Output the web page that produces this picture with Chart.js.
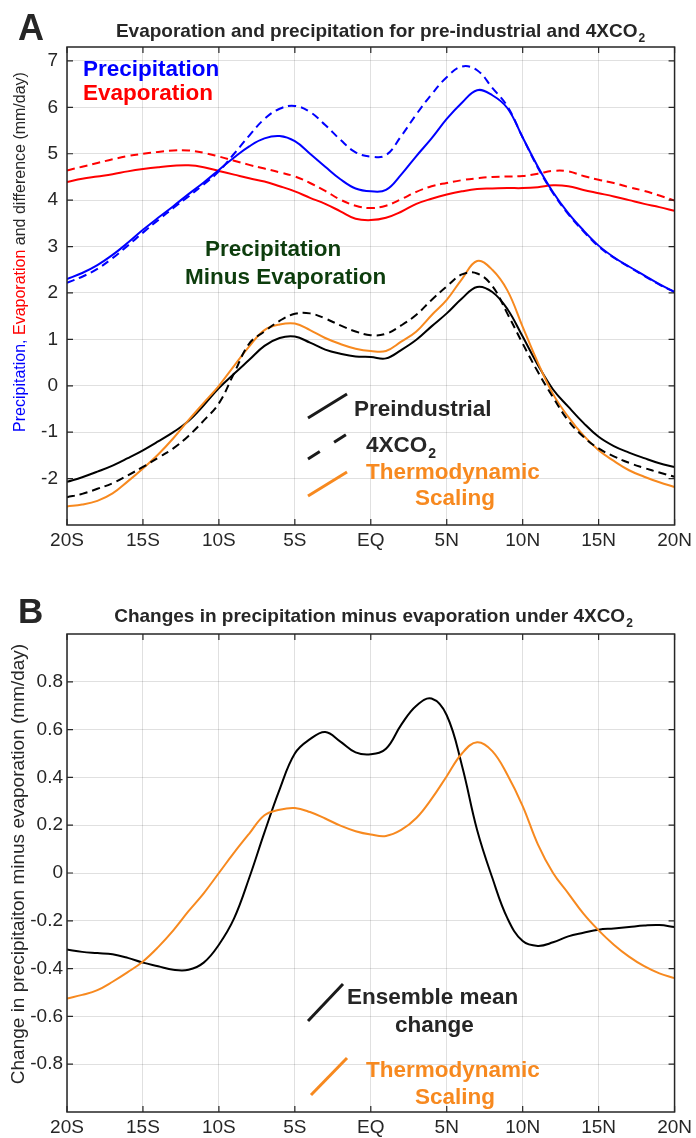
<!DOCTYPE html>
<html>
<head>
<meta charset="utf-8">
<script src="https://cdn.jsdelivr.net/npm/chart.js@4.4.1/dist/chart.umd.min.js"></script>
<style>
    body { margin: 0; background: #fff; }
    .panel { position: absolute; left: 0; width: 696px; }
    #panelA { top: 0; height: 570px; }
    #panelB { top: 570px; height: 568px; }
</style>
</head>
<body>
<div class="panel" id="panelA"><canvas id="chartA"></canvas></div>
<div class="panel" id="panelB"><canvas id="chartB"></canvas></div>
<script>
// latitude, 1 degree steps
const latitudes = [-20, -19, -18, -17, -16, -15, -14, -13, -12, -11, -10, -9, -8, -7, -6, -5, -4, -3, -2, -1,
    0, 1, 2, 3, 4, 5, 6, 7, 8, 9, 10, 11, 12, 13, 14, 15, 16, 17, 18, 19, 20];
const xTickValues = [-20, -15, -10, -5, 0, 5, 10, 15, 20];
const xTickLabels = ['20S', '15S', '10S', '5S', 'EQ', '5N', '10N', '15N', '20N'];
const yTicksA = [-2, -1, 0, 1, 2, 3, 4, 5, 6, 7];
const yTicksB = [-0.8, -0.6, -0.4, -0.2, 0, 0.2, 0.4, 0.6, 0.8];

// panel A (mm/day)
const precipPI = [2.30, 2.43, 2.60, 2.82, 3.08, 3.36, 3.62, 3.87, 4.13, 4.38, 4.65, 4.92, 5.16, 5.33, 5.38, 5.27, 5.00, 4.72, 4.45, 4.25,
    4.19, 4.22, 4.55, 4.95, 5.33, 5.75, 6.10, 6.37, 6.26, 5.98, 5.35, 4.72, 4.17, 3.72, 3.35, 3.02, 2.77, 2.57, 2.38, 2.19, 2.02];
const precip4x = [2.22, 2.35, 2.52, 2.75, 3.02, 3.30, 3.57, 3.83, 4.08, 4.34, 4.62, 5.00, 5.39, 5.75, 5.97, 6.03, 5.90, 5.62, 5.30, 5.03,
    4.94, 4.97, 5.38, 5.85, 6.28, 6.65, 6.88, 6.80, 6.42, 6.02, 5.35, 4.70, 4.15, 3.70, 3.33, 3.00, 2.76, 2.56, 2.37, 2.18, 2.02];
const evapPI = [4.39, 4.46, 4.51, 4.56, 4.62, 4.67, 4.71, 4.74, 4.75, 4.71, 4.63, 4.55, 4.47, 4.40, 4.30, 4.19, 4.05, 3.92, 3.76, 3.60,
    3.57, 3.62, 3.75, 3.92, 4.03, 4.12, 4.19, 4.24, 4.25, 4.26, 4.26, 4.28, 4.32, 4.30, 4.22, 4.15, 4.08, 4.00, 3.92, 3.85, 3.77];
const evap4x = [4.64, 4.72, 4.80, 4.88, 4.95, 5.00, 5.04, 5.07, 5.07, 5.02, 4.94, 4.85, 4.76, 4.68, 4.60, 4.51, 4.37, 4.20, 4.01, 3.88,
    3.83, 3.88, 4.02, 4.18, 4.30, 4.37, 4.43, 4.47, 4.50, 4.51, 4.52, 4.57, 4.63, 4.62, 4.52, 4.44, 4.37, 4.28, 4.20, 4.10, 3.99];
const pmePI = [-2.07, -1.97, -1.85, -1.72, -1.56, -1.39, -1.20, -1.00, -0.76, -0.42, -0.05, 0.26, 0.56, 0.86, 1.03, 1.06, 0.93, 0.78, 0.69, 0.63,
    0.62, 0.59, 0.77, 0.99, 1.28, 1.56, 1.88, 2.13, 2.02, 1.65, 1.06, 0.45, -0.08, -0.45, -0.80, -1.10, -1.30, -1.44, -1.56, -1.67, -1.75];
const pme4x = [-2.40, -2.33, -2.22, -2.10, -1.93, -1.75, -1.55, -1.35, -1.08, -0.75, -0.38, 0.27, 0.91, 1.17, 1.40, 1.55, 1.56, 1.45, 1.30, 1.17,
    1.09, 1.12, 1.30, 1.53, 1.85, 2.14, 2.40, 2.42, 2.15, 1.55, 0.91, 0.30, -0.25, -0.75, -1.10, -1.35, -1.52, -1.66, -1.77, -1.87, -1.96];
const pmeThermo = [-2.60, -2.56, -2.48, -2.32, -2.06, -1.78, -1.48, -1.13, -0.74, -0.37, 0.00, 0.43, 0.85, 1.20, 1.32, 1.34, 1.20, 1.03, 0.90, 0.80,
    0.75, 0.75, 0.95, 1.17, 1.52, 1.85, 2.30, 2.69, 2.50, 2.05, 1.27, 0.50, -0.18, -0.67, -1.07, -1.39, -1.62, -1.82, -1.96, -2.08, -2.18];

// panel B (mm/day)
const changeMean = [-0.32, -0.33, -0.335, -0.34, -0.355, -0.375, -0.39, -0.405, -0.405, -0.375, -0.30, -0.19, -0.02, 0.17, 0.35, 0.50, 0.56, 0.59, 0.55, 0.505,
    0.497, 0.52, 0.62, 0.70, 0.73, 0.66, 0.45, 0.18, -0.02, -0.19, -0.285, -0.305, -0.29, -0.265, -0.25, -0.237, -0.232, -0.226, -0.22, -0.218, -0.226];
const changeThermo = [-0.525, -0.51, -0.49, -0.455, -0.415, -0.37, -0.31, -0.24, -0.16, -0.085, 0.0, 0.085, 0.165, 0.242, 0.265, 0.272, 0.255, 0.228, 0.198, 0.175,
    0.161, 0.155, 0.18, 0.23, 0.31, 0.405, 0.50, 0.547, 0.51, 0.41, 0.28, 0.12, 0.0, -0.085, -0.17, -0.24, -0.30, -0.35, -0.39, -0.42, -0.44];

const FONT = '"Liberation Sans", Arial, Helvetica, sans-serif';
const DARK = '#262626';
const BLUE = '#0000ff';
const RED = '#ff0000';
const ORANGE = '#f7891f';
const GREEN = '#0d3d0d';

function pts(values) {
    return latitudes.map((lat, i) => ({ x: lat, y: values[i] }));
}

function line(values, color, dashed) {
    return {
        data: pts(values),
        borderColor: color,
        borderWidth: 2,
        borderDash: dashed ? [8, 5] : [],
        pointRadius: 0,
        fill: false,
        tension: 0.4
    };
}

function text(ctx, str, x, y, size, color, bold, align) {
    ctx.font = (bold ? 'bold ' : '') + size + 'px ' + FONT;
    ctx.fillStyle = color;
    ctx.textAlign = align || 'left';
    ctx.textBaseline = 'alphabetic';
    ctx.fillText(str, x, y);
}

// text with a subscript, e.g. 4XCO2
function subText(ctx, main, sub, x, y, size, color, align) {
    ctx.font = 'bold ' + size + 'px ' + FONT;
    const w1 = ctx.measureText(main).width;
    ctx.font = 'bold ' + Math.round(size * 0.62) + 'px ' + FONT;
    const w2 = ctx.measureText(sub).width;
    let left = x;
    if (align === 'center') left = x - (w1 + w2) / 2;
    text(ctx, main, left, y, size, color, true);
    text(ctx, sub, left + w1 + 1, y + size * 0.28, Math.round(size * 0.62), color, true);
}

function slash(ctx, x1, y1, x2, y2, color, dash) {
    ctx.save();
    ctx.strokeStyle = color;
    ctx.lineWidth = 3;
    ctx.setLineDash(dash || []);
    ctx.beginPath();
    ctx.moveTo(x1, y1);
    ctx.lineTo(x2, y2);
    ctx.stroke();
    ctx.restore();
}

// box round the axes with inward ticks on all sides (matlab style)
const framePlugin = {
    id: 'frame',
    afterDatasetsDraw(chart) {
        const { ctx, chartArea: a, scales } = chart;
        ctx.save();
        ctx.strokeStyle = DARK;
        ctx.lineWidth = 1.5;
        ctx.strokeRect(a.left, a.top, a.right - a.left, a.bottom - a.top);
        ctx.lineWidth = 1.2;
        ctx.beginPath();
        scales.x.ticks.forEach(t => {
            const px = scales.x.getPixelForValue(t.value);
            ctx.moveTo(px, a.bottom); ctx.lineTo(px, a.bottom - 6);
            ctx.moveTo(px, a.top); ctx.lineTo(px, a.top + 6);
        });
        scales.y.ticks.forEach(t => {
            const py = scales.y.getPixelForValue(t.value);
            ctx.moveTo(a.left, py); ctx.lineTo(a.left + 6, py);
            ctx.moveTo(a.right, py); ctx.lineTo(a.right - 6, py);
        });
        ctx.stroke();
        ctx.restore();
    }
};

function scalesFor(yMin, yMax, yTicks, yFormat, xHeight, yPad) {
    return {
        x: {
            type: 'linear', min: -20, max: 20,
            afterBuildTicks: s => { s.ticks = xTickValues.map(v => ({ value: v })); },
            afterFit: s => { s.height = xHeight; },
            ticks: {
                padding: 4, color: DARK, font: { family: FONT, size: 19 }, maxRotation: 0,
                callback: v => xTickLabels[xTickValues.indexOf(v)]
            },
            grid: { color: 'rgba(0,0,0,0.12)', drawTicks: false },
            border: { display: false }
        },
        y: {
            min: yMin, max: yMax,
            afterBuildTicks: s => { s.ticks = yTicks.map(v => ({ value: v })); },
            afterFit: s => { s.width = 67; },
            ticks: { padding: yPad, color: DARK, font: { family: FONT, size: 19 }, callback: yFormat },
            grid: { color: 'rgba(0,0,0,0.12)', drawTicks: false },
            border: { display: false }
        }
    };
}

const commonPlugins = { legend: { display: false }, tooltip: { enabled: false } };

// ---- panel A ----
const labelsA = {
    id: 'labelsA',
    afterDraw(chart) {
        const ctx = chart.ctx;
        text(ctx, 'A', 18, 40, 36, DARK, true);
        subText(ctx, 'Evaporation and precipitation for pre-industrial and 4XCO', '2', 380, 37, 19, DARK, 'center');

        // multicoloured y axis title
        ctx.save();
        ctx.translate(21, 252);
        ctx.rotate(-Math.PI / 2);
        ctx.font = '16px ' + FONT;
        ctx.textBaseline = 'middle';
        const parts = [['Precipitation, ', BLUE], ['Evaporation', RED], [' and difference (mm/day)', DARK]];
        const total = parts.reduce((s, p) => s + ctx.measureText(p[0]).width, 0);
        let xx = -total / 2;
        parts.forEach(p => {
            ctx.fillStyle = p[1];
            ctx.textAlign = 'left';
            ctx.fillText(p[0], xx, 0);
            xx += ctx.measureText(p[0]).width;
        });
        ctx.restore();

        text(ctx, 'Precipitation', 83, 76, 22.5, BLUE, true);
        text(ctx, 'Evaporation', 83, 100, 22.5, RED, true);
        text(ctx, 'Precipitation', 205, 256, 22.5, GREEN, true);
        text(ctx, 'Minus Evaporation', 185, 284, 22.5, GREEN, true);

        slash(ctx, 308, 418, 347, 394, '#1a1a1a');
        slash(ctx, 308, 459, 347, 434, '#1a1a1a', [14, 17]);
        slash(ctx, 308, 496, 347, 472, ORANGE);
        text(ctx, 'Preindustrial', 354, 416, 22.5, DARK, true);
        subText(ctx, '4XCO', '2', 366, 452, 22.5, DARK);
        text(ctx, 'Thermodynamic', 366, 479, 22.5, ORANGE, true);
        text(ctx, 'Scaling', 415, 505, 22.5, ORANGE, true);
    }
};

new Chart(document.getElementById('chartA'), {
    type: 'line',
    data: {
        datasets: [
            line(precip4x, BLUE, true),
            line(precipPI, BLUE, false),
            line(evap4x, RED, true),
            line(evapPI, RED, false),
            line(pme4x, '#000', true),
            line(pmeThermo, ORANGE, false),
            line(pmePI, '#000', false)
        ]
    },
    options: {
        responsive: true,
        maintainAspectRatio: false,
        animation: false,
        layout: { padding: { left: 0, right: 16, top: 47, bottom: 0 } },
        scales: scalesFor(-3, 7.3, yTicksA, v => String(v), 45, 9),
        plugins: commonPlugins
    },
    plugins: [framePlugin, labelsA]
});

// ---- panel B ----
const labelsB = {
    id: 'labelsB',
    afterDraw(chart) {
        const ctx = chart.ctx;
        text(ctx, 'B', 18, 53, 35, DARK, true);
        subText(ctx, 'Changes in precipitation minus evaporation under 4XCO', '2', 373, 52, 19, DARK, 'center');

        ctx.save();
        ctx.translate(19, 294);
        ctx.rotate(-Math.PI / 2);
        ctx.font = '19px ' + FONT;
        ctx.fillStyle = DARK;
        ctx.textAlign = 'center';
        ctx.textBaseline = 'middle';
        ctx.fillText('Change in precipitaiton minus evaporation (mm/day)', 0, 0);
        ctx.restore();

        slash(ctx, 308, 451, 343, 414, '#1a1a1a');
        text(ctx, 'Ensemble mean', 347, 434, 22.5, DARK, true);
        text(ctx, 'change', 395, 462, 22.5, DARK, true);
        slash(ctx, 311, 525, 347, 488, ORANGE);
        text(ctx, 'Thermodynamic', 366, 507, 22.5, ORANGE, true);
        text(ctx, 'Scaling', 415, 534, 22.5, ORANGE, true);
    }
};

new Chart(document.getElementById('chartB'), {
    type: 'line',
    data: {
        datasets: [
            line(changeThermo, ORANGE, false),
            line(changeMean, '#000', false)
        ]
    },
    options: {
        responsive: true,
        maintainAspectRatio: false,
        animation: false,
        layout: { padding: { left: 0, right: 16, top: 64, bottom: 0 } },
        scales: scalesFor(-1, 1, yTicksB, v => (Math.abs(v) < 1e-9 ? '0' : v.toFixed(1)), 26, 4),
        plugins: commonPlugins
    },
    plugins: [framePlugin, labelsB]
});
</script>
</body>
</html>
